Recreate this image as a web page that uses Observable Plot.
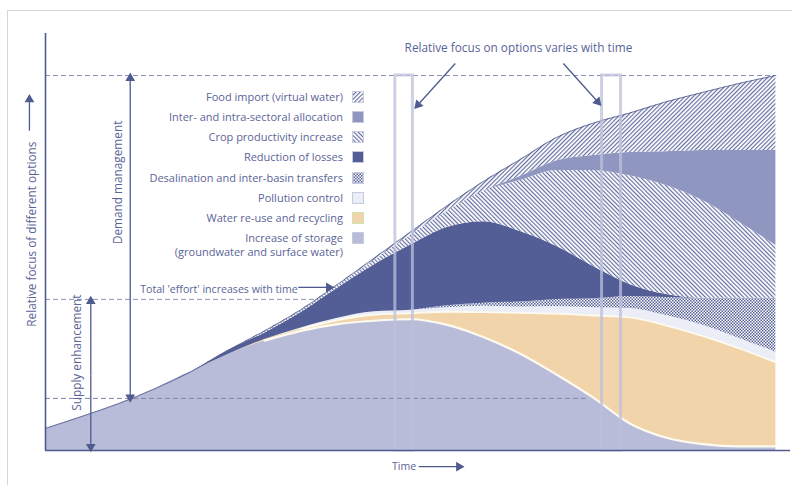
<!DOCTYPE html>
<html><head><meta charset="utf-8">
<script src="https://cdn.jsdelivr.net/npm/d3@7"></script>
<script src="https://cdn.jsdelivr.net/npm/@observablehq/plot@0.6"></script>
<style>
body{margin:0;background:#fff;font-family:"Open Sans",sans-serif;}
#wrap{position:relative;width:792px;height:485px;overflow:hidden;background:#fff;}
#frame{position:absolute;left:7px;top:10px;width:800px;height:500px;border-top:1px solid #d6d6d6;border-left:1px solid #d6d6d6;}
#chart{position:absolute;left:0;top:0;}
.lrow{position:absolute;left:0;width:364px;height:20px;display:flex;justify-content:flex-end;align-items:center;gap:9px;font-size:11px;line-height:12px;color:#5b6497;white-space:nowrap;}
.lrow svg{flex:none;}
.l2{position:absolute;left:0;width:343px;text-align:right;font-size:11px;line-height:12px;color:#5b6497;white-space:nowrap;}
</style></head>
<body>
<div id="wrap">
<div id="frame"></div>
<svg width="0" height="0" style="position:absolute">
 <defs>
  <pattern id="hatchFwd" width="3" height="3" patternUnits="userSpaceOnUse" patternTransform="rotate(45)">
   <rect width="3" height="3" fill="#ffffff"/><rect width="1.15" height="3" fill="#646d9f"/>
  </pattern>
  <pattern id="hatchBack" width="3" height="3" patternUnits="userSpaceOnUse" patternTransform="rotate(-45)">
   <rect width="3" height="3" fill="#ffffff"/><rect width="1.15" height="3" fill="#646d9f"/>
  </pattern>
  <pattern id="checker" width="3" height="3" patternUnits="userSpaceOnUse">
   <rect width="3" height="3" fill="#ffffff"/><rect width="1.5" height="1.5" fill="#56619a"/><rect x="1.5" y="1.5" width="1.5" height="1.5" fill="#56619a"/>
  </pattern>
 </defs>
</svg>
<div id="chart"></div>
</div>
<script>
// ---- data (time steps and stacked thickness of each option) ----
const time = [0,5,10,15,20,25,30,35,40,45,50,55,60,65,70,75,80,85,90,95,100];
const storage      = [5.9,9.1,12.5,16.5,21.1,25.6,29.3,31.9,33.7,34.6,35.0,33.5,30.2,25.8,20.2,14.1,7.2,3.4,1.7,1.1,1.1];
const reuse        = [0,0,0,0,0,0,0.3,0.5,1.1,1.6,1.6,3.5,6.7,10.9,16.3,21.9,28.3,29.9,28.8,26.1,22.4];
const pollution    = [0,0,0,0,0,0,0,0.3,0.5,0.8,0.8,1.1,1.6,1.6,1.9,2.1,2.4,2.7,2.9,2.7,2.7];
const desalination = [0,0,0,0,0,0,0,0,0,0,0,0.5,0.8,1.3,1.9,2.4,3.2,4.8,7.2,10.7,14.4];
const losses       = [0,0,0,0,0,1.1,1.7,4.1,8.0,12.5,17.4,20.9,21.7,18.8,14.1,8.6,3.2,0.8,0,0,0];
const crop         = [0,0,0,0,0,0,0.3,0.5,0.7,1.2,2.6,4.3,8.2,13.6,20.3,25.6,29.0,29.1,26.1,20.3,14.1];
const allocation   = [0,0,0,0,0,0,0,0,0,0,0,0,0,1.1,2.6,4.0,6.2,9.0,13.3,19.1,25.3];
const foodImport   = [0,0,0,0,0,0,0.3,0.3,0.3,0.6,0.9,1.5,2.6,4.5,6.2,8.6,10.5,13.3,15.5,17.9,20.0];

const keys = ["storage","reuse","pollution","desalination","losses","crop","allocation","foodImport"];
const legendLabels = ["Food import (virtual water)","Inter- and intra-sectoral allocation","Crop productivity increase","Reduction of losses","Desalination and inter-basin transfers","Pollution control","Water re-use and recycling","Increase of storage"];
const legendKeys = ["foodImport","allocation","crop","losses","desalination","pollution","reuse","storage"];
const legendSecondLine = "(groundwater and surface water)";

// reference levels (dashed) and annotations
const refLines = [{v:100,t1:0,t2:100},{v:40.3,t1:0,t2:100}];
const lowRef = [{v:13.9,t1:0,t2:74}];
const focusBars = [{t1:47.9,t2:50.3},{t1:76.2,t2:78.8}];
const arrows = [
 {x1:11.6,y1:56.7,x2:11.6,y2:99.3,a:0},{x1:11.6,y1:56.7,x2:11.6,y2:14.2,a:180},
 {x1:6.2,y1:20,x2:6.2,y2:39.8,a:0},{x1:6.2,y1:20,x2:6.2,y2:1.0,a:180},
 {x1:-2.2,y1:85.3,x2:-2.2,y2:93.6,a:0},
 {x1:51.1,y1:-4.3,x2:56.6,y2:-4.3,a:90},
 {x1:34.6,y1:43.5,x2:38.8,y2:43.5,a:90},
 {x1:56.1,y1:103.2,x2:51.0,y2:92.2,a:222},
 {x1:70.9,y1:103.2,x2:75.6,y2:93.0,a:138}
];
const bigLabels = [
 {t:64.75,v:107.2,text:"Relative focus on options varies with time",r:0},
 {t:10.0,v:71.5,text:"Demand management",r:-90},
 {t:4.4,v:26.1,text:"Supply enhancement",r:-90},
 {t:-1.8,v:57.7,text:"Relative focus of different options",r:-90}
];
const smallLabels = [
 {t:23.75,v:42.9,text:"Total 'effort' increases with time",r:0},
 {t:49.1,v:-4.3,text:"Time",r:0}
];

const fills = {storage:"#b9bcd9",reuse:"#f2d4aa",pollution:"#eceef7",desalination:"url(#checker)",losses:"#525e95",crop:"url(#hatchBack)",allocation:"#8f96c0",foodImport:"url(#hatchFwd)"};
const byKey = {storage,reuse,pollution,desalination,losses,crop,allocation,foodImport};
const rows = keys.flatMap(k => time.map((t,i)=>({t, v:byKey[k][i], layer:k})));
const cum = ks => time.map((t,i)=>({t, v:d3.sum(ks,k=>byKey[k][i])}));
const storageTop = cum(["storage"]).filter(d=>d.t>=30);
const reuseTop = cum(["storage","reuse"]).filter(d=>d.t>=35);
const totalTop = cum(keys);

const navy = "#4f5a8f", txt = "#5b6497";
const chart = Plot.plot({
  width:792, height:485,
  marginLeft:45, marginRight:2, marginTop:33, marginBottom:35,
  x:{domain:[0,102], axis:null},
  y:{domain:[0,111.2], axis:null},
  color:{domain:keys, range:keys.map(k=>fills[k])},
  style:{fontFamily:"'Open Sans', sans-serif", fontSize:"11px", overflow:"visible", background:"transparent"},
  marks:[
    Plot.ruleY(refLines,{y:"v",x1:"t1",x2:"t2",stroke:"#8d92b7",strokeWidth:1,strokeDasharray:"5,3"}),
    Plot.areaY(rows, Plot.stackY({x:"t", y:"v", z:"layer", fill:"layer", order:keys, curve:"monotone-x"})),
    Plot.line(storageTop,{x:"t",y:"v",stroke:"#fdfaf0",strokeWidth:2.2,curve:"monotone-x"}),
    Plot.line(reuseTop,{x:"t",y:"v",stroke:"#fdfaf0",strokeWidth:1.8,curve:"monotone-x"}),
    Plot.line(totalTop,{x:"t",y:"v",stroke:navy,strokeWidth:1,strokeOpacity:0.8,curve:"monotone-x"}),
    Plot.ruleY(lowRef,{y:"v",x1:"t1",x2:"t2",stroke:"#7f85ad",strokeWidth:1,strokeDasharray:"5,3"}),
    Plot.rect(focusBars,{x1:"t1",x2:"t2",y1:0,y2:100,fill:"none",stroke:"#bcc0dc",strokeWidth:3,strokeOpacity:0.75}),
    Plot.ruleX([0],{y1:0,y2:111.2,stroke:navy,strokeWidth:1.6}),
    Plot.ruleY([0],{x1:0,x2:102,stroke:navy,strokeWidth:1.6}),
    Plot.link(arrows,{x1:"x1",y1:"y1",x2:"x2",y2:"y2",stroke:navy,strokeWidth:1.3}),
    Plot.dot(arrows,{x:"x2",y:"y2",symbol:"triangle",r:3.6,fill:navy,stroke:"none",rotate:"a"}),
    Plot.text(bigLabels,{x:"t",y:"v",text:"text",rotate:"r",fill:txt,fontSize:11.8}),
    Plot.text(smallLabels,{x:"t",y:"v",text:"text",rotate:"r",fill:txt,fontSize:10.6})
  ]
});
document.getElementById("chart").appendChild(chart);

// legend inside the plot area
const wrap = document.getElementById("wrap");
legendKeys.forEach((k,i)=>{
  const row = document.createElement("div");
  row.className = "lrow";
  row.style.top = (86.7 + i*20.2) + "px";
  const span = document.createElement("span");
  span.textContent = legendLabels[i];
  row.appendChild(span);
  const border = k==="reuse" ? "#cfe2b4" : "#c7cae0";
  row.insertAdjacentHTML("beforeend",`<svg width="12" height="12"><rect x="0.5" y="0.5" width="11" height="11" fill="${fills[k]}" stroke="${border}" stroke-width="1"/></svg>`);
  wrap.appendChild(row);
});
const l2 = document.createElement("div");
l2.className = "l2";
l2.style.top = "246px";
l2.textContent = legendSecondLine;
wrap.appendChild(l2);
</script>
</body></html>
